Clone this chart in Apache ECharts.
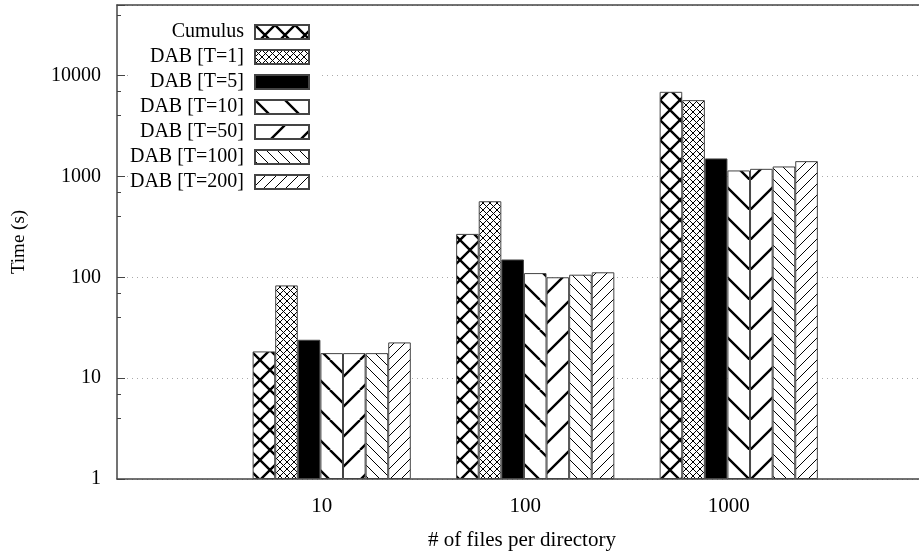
<!DOCTYPE html>
<html>
<head>
<meta charset="utf-8">
<script src="https://cdn.jsdelivr.net/npm/echarts@6/dist/echarts.min.js"></script>
<style>
  html, body { margin: 0; padding: 0; background: #fff; }
  #chart { width: 919px; height: 555px; }
</style>
</head>
<body>
<div id="chart"></div>
<script>
// data
var categories = ['10', '100', '1000'];
var seriesNames = ['Cumulus', 'DAB [T=1]', 'DAB [T=5]', 'DAB [T=10]', 'DAB [T=50]', 'DAB [T=100]', 'DAB [T=200]'];
var cumulus = [18.4, 269, 6890];
var dabT1 = [83, 567, 5700];
var dabT5 = [24, 150, 1506];
var dabT10 = [17.7, 110, 1145];
var dabT50 = [17.7, 100, 1188];
var dabT100 = [17.7, 106, 1254];
var dabT200 = [22.6, 112, 1416];
var yTickLabels = ['1', '10', '100', '1000', '10000'];

var seriesValues = [cumulus, dabT1, dabT5, dabT10, dabT50, dabT100, dabT200];
var patternKinds = ['cross', 'fineCross', 'solid', 'backSparse', 'fwdSparse', 'backDense', 'fwdDense'];

var FONT = '"Liberation Serif", "DejaVu Serif", serif';

/* gnuplot-like fill patterns, drawn on small canvases */
function makePattern(kind) {
  if (kind === 'solid') return '#000';
  var size, lw, back = false, fwd = false;
  if (kind === 'cross') { size = 20; lw = 2.4; back = fwd = true; }
  else if (kind === 'fineCross') { size = 7; lw = 1; back = fwd = true; }
  else if (kind === 'backSparse') { size = 30; lw = 2.4; back = true; }
  else if (kind === 'fwdSparse') { size = 30; lw = 2.4; fwd = true; }
  else if (kind === 'backDense') { size = 11; lw = 1; back = true; }
  else { size = 11; lw = 1; fwd = true; }
  var c = document.createElement('canvas');
  c.width = size;
  c.height = size;
  var ctx = c.getContext('2d');
  ctx.fillStyle = '#fff';
  ctx.fillRect(0, 0, size, size);
  ctx.strokeStyle = '#000';
  ctx.lineWidth = lw;
  ctx.beginPath();
  for (var k = -1; k <= 1; k++) {
    if (back) { ctx.moveTo(k * size, 0); ctx.lineTo(k * size + size, size); }
    if (fwd) { ctx.moveTo(k * size + size, 0); ctx.lineTo(k * size, size); }
  }
  ctx.stroke();
  return { image: c, repeat: 'repeat' };
}

var series = seriesNames.map(function (name, i) {
  return {
    name: name,
    type: 'bar',
    barWidth: 22.6,
    barGap: '0%',
    itemStyle: {
      color: makePattern(patternKinds[i]),
      borderColor: '#444',
      borderWidth: 1
    },
    data: seriesValues[i].map(function (v, j) { return [j, v]; })
  };
});

var chart = echarts.init(document.getElementById('chart'), null, { renderer: 'canvas' });

chart.setOption({
  animation: false,
  backgroundColor: '#fff',
  grid: { left: 117, right: -8, top: 5, bottom: 76, outerBoundsMode: 'none' },
  legend: {
    orient: 'vertical',
    align: 'right',
    right: 601,
    top: 14,
    itemWidth: 54,
    itemHeight: 14,
    itemGap: 5,
    padding: [8, 8, 8, 0],
    backgroundColor: '#fff',
    icon: 'rect',
    textStyle: { fontFamily: FONT, fontSize: 20, color: '#000', lineHeight: 20, padding: [0, 6, 0, 0] },
    data: seriesNames
  },
  xAxis: [{
    type: 'value',
    min: -1.055,
    max: 2.925,
    name: '# of files per directory',
    nameLocation: 'middle',
    nameGap: 51,
    nameTextStyle: { fontFamily: FONT, fontSize: 21, color: '#000' },
    axisLine: { show: true, onZero: false, lineStyle: { color: '#444', width: 1.5 } },
    axisTick: { show: false },
    splitLine: { show: false },
    axisLabel: {
      customValues: [0, 1, 2],
      margin: 17,
      formatter: function (v) { return '{a|' + categories[Math.round(v)] + '}'; },
      rich: { a: { fontFamily: FONT, fontSize: 21, color: '#000', padding: [0, 20, 0, 0] } }
    }
  }, {
    // top frame line
    type: 'value',
    position: 'top',
    min: -1.055,
    max: 2.925,
    axisLine: { show: true, onZero: false, lineStyle: { color: '#444', width: 1.5 } },
    axisTick: { show: false },
    axisLabel: { show: false },
    splitLine: { show: false }
  }],
  yAxis: {
    type: 'log',
    logBase: 10,
    min: 1,
    max: 50000,
    name: 'Time (s)',
    nameLocation: 'middle',
    nameGap: 88,
    nameTextStyle: { fontFamily: FONT, fontSize: 19, color: '#000' },
    axisLine: { show: true, onZero: false, lineStyle: { color: '#444', width: 1.5 } },
    axisTick: { show: true, inside: true, length: 8, lineStyle: { color: '#444' } },
    minorTick: { show: true, splitNumber: 3, length: 4, lineStyle: { color: '#444' } },
    splitLine: { show: true, lineStyle: { type: [1, 4], color: '#aaa', width: 1 } },
    axisLabel: {
      margin: 16,
      showMaxLabel: false,
      fontFamily: FONT,
      fontSize: 20,
      color: '#000',
      formatter: function (v) {
        var s = String(Math.round(v));
        return yTickLabels.indexOf(s) >= 0 ? s : '';
      }
    }
  },
  series: series
});
</script>
</body>
</html>
